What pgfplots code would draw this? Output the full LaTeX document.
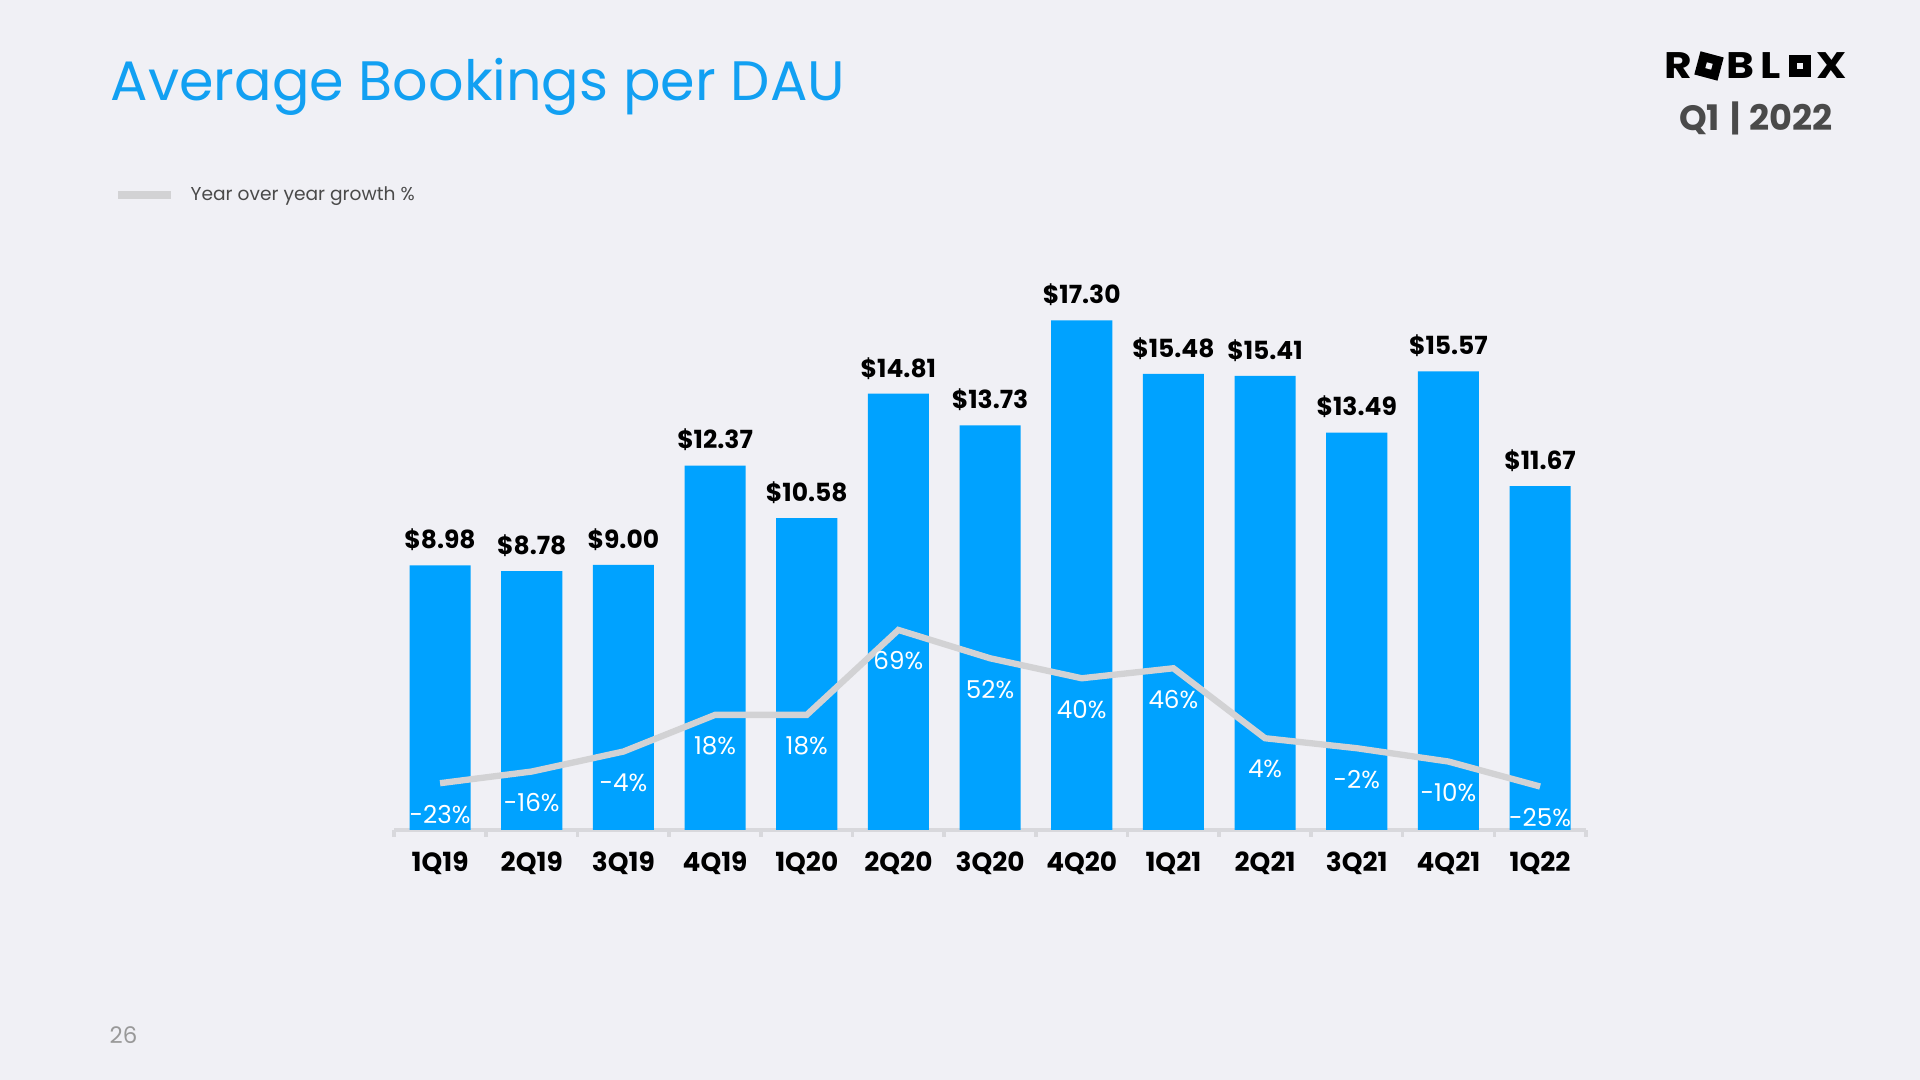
\documentclass[border=0pt]{standalone}
\usepackage{fontspec}
\setmainfont{Poppins}
\usepackage{pgfplots}
\pgfplotsset{compat=1.18}

\definecolor{slidebg}{HTML}{F0F0F5}
\definecolor{barblue}{HTML}{00A2FF}
\definecolor{titleblue}{HTML}{12A0F2}
\definecolor{growthgrey}{HTML}{D2D2D4}
\definecolor{axisgrey}{HTML}{D8D8DC}
\definecolor{textgrey}{HTML}{4A4A4A}

\begin{document}
\begin{tikzpicture}[x=0.01cm,y=0.01cm]
% slide background, 1920 x 1080 px
\fill[slidebg] (0,0) rectangle (1920,1080);

% title
\node[anchor=west, inner sep=0, text=titleblue, font=\fontsize{15.8}{18}\selectfont] at (110,993) {Average Bookings per DAU};

% logo and quarter
\foreach \c/\t in {1678/R,1740/B,1771/L,1832/X}
  \node[inner sep=0, font=\fontsize{10.5}{12}\bfseries, xscale=1.15] at (\c,1014) {\t};
\fill[black, rotate around={-15:(1709,1014)}] (1697,1002) rectangle (1721,1026);
\fill[slidebg, rotate around={-15:(1709,1014)}] (1706,1011) rectangle (1712,1017);
\fill[black] (1789,1003) rectangle (1811,1025);
\fill[slidebg] (1797,1011) rectangle (1803,1017);
\node[inner sep=0, text=textgrey, font=\fontsize{10}{12}\bfseries] at (1756,962) {Q1\hspace{0.3em}|\hspace{0.25em}2022};

% legend
\draw[growthgrey, line width=2.4pt] (118,885) -- (171,885);
\node[anchor=west, inner sep=0, text=textgrey, font=\fontsize{5.3}{7}\selectfont] at (190,884) {Year over year growth \%};

% page number
\node[anchor=west, inner sep=0, text=gray!80, font=\fontsize{6.5}{8}\selectfont] at (109,45) {26};

% bars: average bookings per DAU
\begin{axis}[
  at={(3.94cm,2.50cm)}, anchor=south west,
  width=11.91cm, height=5.36cm, scale only axis,
  xmin=-0.5, xmax=12.5, ymin=0, ymax=18.21,
  clip=false,
  ybar, bar width=0.61cm,
  axis x line*=bottom, axis y line=none,
  x axis line style={axisgrey, line width=1.2pt, -},
  xtick={0,...,12},
  xticklabels={1Q19,2Q19,3Q19,4Q19,1Q20,2Q20,3Q20,4Q20,1Q21,2Q21,3Q21,4Q21,1Q22},
  tick align=outside,
  major tick length=0pt,
  tick style={axisgrey, line width=1pt},
  extra x ticks={-0.5,0.5,...,12.5},
  extra x tick labels={},
  extra x tick style={major tick length=0.07cm},
  xticklabel style={font=\fontsize{7.5}{9}\bfseries, text=black, anchor=center, yshift=-0.335cm},
  nodes near coords,
  point meta=explicit symbolic,
  every node near coord/.append style={font=\fontsize{7.1}{8}\bfseries, text=black, yshift=0.02cm},
]
\addplot[fill=barblue, draw=none] coordinates {
  (0,8.98)[\$8.98] (1,8.78)[\$8.78] (2,9.00)[\$9.00] (3,12.37)[\$12.37]
  (4,10.58)[\$10.58] (5,14.81)[\$14.81] (6,13.73)[\$13.73] (7,17.30)[\$17.30]
  (8,15.48)[\$15.48] (9,15.41)[\$15.41] (10,13.49)[\$13.49] (11,15.57)[\$15.57]
  (12,11.67)[\$11.67]
};
\end{axis}

% line: year over year growth %
\begin{axis}[
  at={(3.94cm,2.50cm)}, anchor=south west,
  width=11.91cm, height=5.36cm, scale only axis,
  xmin=-0.5, xmax=12.5, ymin=-51, ymax=271,
  clip=false, hide axis,
  nodes near coords,
  point meta=explicit symbolic,
  every node near coord/.append style={anchor=center, yshift=-0.31cm, text=white, font=\fontsize{7}{8}\selectfont},
]
\addplot[growthgrey, line width=1.8pt, mark=none] coordinates {
  (0,-23)[-23\%] (1,-16)[-16\%] (2,-4)[-4\%] (3,18)[18\%] (4,18)[18\%]
  (5,69)[69\%] (6,52)[52\%] (7,40)[40\%] (8,46)[46\%] (9,4)[4\%]
  (10,-2)[-2\%] (11,-10)[-10\%] (12,-25)[-25\%]
};
\end{axis}
\end{tikzpicture}
\end{document}
